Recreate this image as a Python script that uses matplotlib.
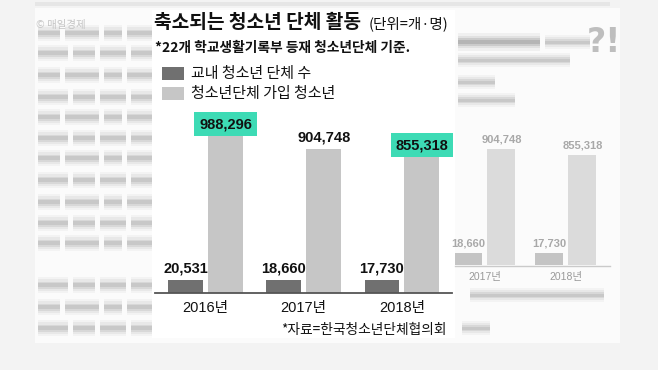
import matplotlib.pyplot as plt
import numpy as np
from matplotlib.patches import Rectangle

W, H = 658, 370

years = ['2016년', '2017년', '2018년']
clubs = [20531, 18660, 17730]          # 교내 청소년 단체 수
members = [988296, 904748, 855318]     # 청소년단체 가입 청소년
highlight = [True, False, True]

KR = ['Noto Sans CJK KR', 'DejaVu Sans']
NUM = ['Liberation Sans', 'Noto Sans CJK KR']

DARK = '#707070'
LIGHT = '#c6c6c6'
MINT = '#3ddbb5'

fig = plt.figure(figsize=(W / 100, H / 100), dpi=100)
fig.patch.set_facecolor('#f3f3f3')

bg = fig.add_axes([0, 0, 1, 1])
bg.set_xlim(0, W)
bg.set_ylim(H, 0)
bg.axis('off')


def px_axes(x0, y0, x1, y1):
    return fig.add_axes([x0 / W, 1 - y1 / H, (x1 - x0) / W, (y1 - y0) / H])


def blur_row(x0, x1, y, h=7, col='#9a9a9a'):
    # soft gray band, stands in for the blurred article text
    for k, a in [(2.2, 0.08), (1.6, 0.12), (1.0, 0.2), (0.5, 0.25)]:
        bg.add_patch(Rectangle((x0, y - h * k / 2), x1 - x0, h * k,
                               fc=col, ec='none', alpha=a))


# page behind the chart
bg.add_patch(Rectangle((35, 8), 585, 335, fc='#fbfbfb', ec='none'))
bg.add_patch(Rectangle((35, 2), 575, 4, fc='#e6e6e6', ec='none'))
bg.text(36, 25, '© 매일경제', family=KR, fontsize=7.5, color='#c4c4c4',
        ha='left', va='center')

rows = [33, 53, 75, 97, 117, 138, 158, 180, 202, 223, 243, 285, 307, 328]
for i, y in enumerate(rows):
    x = 38
    for w in ([30, 22, 26, 30] if i % 2 else [22, 34, 18, 36]):
        blur_row(x, min(x + w, 152), y)
        x += w + 5
        if x > 150:
            break

# right side: blurred copy of the same chart
blur_row(458, 540, 42, 8, '#777777')
blur_row(545, 590, 42, 6)
blur_row(458, 570, 60, 6)
blur_row(458, 495, 82, 6)
blur_row(458, 515, 100, 6)
bg.text(604, 42, '?!', fontsize=24, fontweight='bold', color='#b8b8b8',
        ha='center', va='center', alpha=0.9)

mini = px_axes(455, 140, 612, 265)
xm = np.arange(2)
mini.set_xlim(-0.37, 1.57)
mini.set_ylim(0, max(members[1:]) * 125 / 116)
mfloor = 0.1 * max(members[1:])
mini.bar(xm - 0.204, np.maximum(clubs[1:], mfloor), 0.346, color='#a0a0a0', alpha=0.6)
mini.bar(xm + 0.204, members[1:], 0.346, color='#d4d4d4', alpha=0.8)
for i in range(2):
    mini.annotate(f'{members[i + 1]:,}', (xm[i] + 0.204, members[i + 1]),
                  xytext=(0, 7), textcoords='offset points', ha='center',
                  va='center', fontsize=8, fontweight='bold', family=NUM,
                  color='#444444', alpha=0.45)
    mini.annotate(f'{clubs[i + 1]:,}', (xm[i] - 0.204, mfloor),
                  xytext=(0, 7), textcoords='offset points', ha='center',
                  va='center', fontsize=8, fontweight='bold', family=NUM,
                  color='#444444', alpha=0.45)
mini.axis('off')
bg.plot([455, 610], [266, 266], color='#aaaaaa', lw=1, alpha=0.6)
for x, y in zip([485, 566], years[1:]):
    bg.text(x, 277, y, family=NUM, fontsize=7.5, color='#999999',
            ha='center', va='center')
blur_row(470, 604, 295, 6)
blur_row(462, 490, 328, 6)

# main panel
bg.add_patch(Rectangle((152, 10), 303, 328, fc='white', ec='none'))

bg.text(154, 22, '축소되는 청소년 단체 활동', family=KR, fontsize=13.8,
        fontweight='bold', color='#111111', ha='left', va='center')
bg.text(369, 24, '(단위=개·명)', family=KR, fontsize=10.5,
        color='#111111', ha='left', va='center')
bg.text(155, 48, '*22개 학교생활기록부 등재 청소년단체 기준.', family=KR,
        fontsize=9.9, fontweight='bold', color='#111111', ha='left', va='center')

bg.add_patch(Rectangle((162, 67), 22, 13, fc=DARK, ec='none'))
bg.add_patch(Rectangle((162, 87), 22, 13, fc=LIGHT, ec='none'))
bg.text(191, 74, '교내 청소년 단체 수', family=KR, fontsize=10.8,
        color='#111111', ha='left', va='center')
bg.text(191, 94, '청소년단체 가입 청소년', family=KR, fontsize=10.8,
        color='#111111', ha='left', va='center')

bg.text(447, 330, '*자료=한국청소년단체협의회', family=KR, fontsize=9.9,
        color='#111111', ha='right', va='center')

ax = px_axes(155, 100, 452, 293)
ax.set_facecolor('none')
x = np.arange(len(years))
ax.set_xlim(-0.514, 2.509)
ax.set_ylim(0, max(members) * 193 / 157)

# the original draws the small counts at a fixed minimum height
min_bar = 0.083 * max(members)
shown = np.maximum(clubs, min_bar)
ax.bar(x - 0.2035, shown, 0.356, color=DARK, zorder=2)
ax.bar(x + 0.2035, members, 0.356, color=LIGHT, zorder=2)

for i in range(len(years)):
    ax.annotate(f'{clubs[i]:,}', (x[i] - 0.2035, shown[i]), xytext=(0, 8),
                textcoords='offset points', ha='center', va='center',
                fontsize=10.5, fontweight='bold', family=NUM, color='#111111')
    box = dict(boxstyle='square,pad=0.35', fc=MINT, ec='none') if highlight[i] else None
    ax.annotate(f'{members[i]:,}', (x[i] + 0.2035, members[i]), xytext=(0, 8.6),
                textcoords='offset points', ha='center', va='center',
                fontsize=10.5, fontweight='bold', family=NUM, color='#111111',
                bbox=box)

for s in ['top', 'left', 'right']:
    ax.spines[s].set_visible(False)
ax.spines['bottom'].set_color('#555555')
ax.spines['bottom'].set_linewidth(1.3)
ax.set_yticks([])
ax.set_xticks(x, years)
ax.tick_params(axis='x', length=0, pad=6)
for t in ax.get_xticklabels():
    t.set_family(NUM)
    t.set_fontsize(10.5)
    t.set_color('#111111')

fig.savefig('out.png', dpi=100, facecolor=fig.get_facecolor())
